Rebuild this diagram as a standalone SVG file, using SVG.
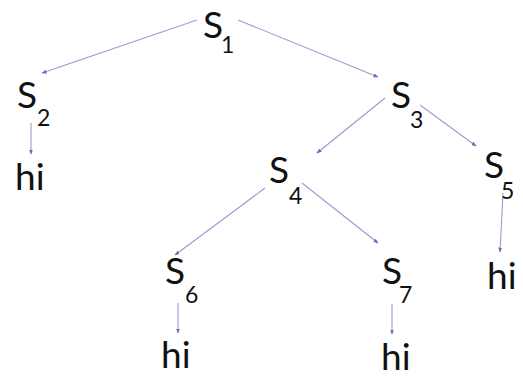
<svg xmlns="http://www.w3.org/2000/svg" width="523" height="378" viewBox="0 0 523 378">
  <defs>
    <marker id="tip" viewBox="0 0 10 10" refX="9" refY="5" markerWidth="5" markerHeight="5" orient="auto" markerUnits="userSpaceOnUse">
      <path d="M0,1 L10,5 L0,9 Z" fill="#6a6ab8"/>
    </marker>
    <style>
      .s { font-family: Lato, "Open Sans", "Liberation Sans", sans-serif; font-size: 37px; fill: #111; }
      .sub { font-family: Lato, "Open Sans", "Liberation Sans", sans-serif; font-size: 23px; fill: #111; }
      .hi { font-family: Lato, "Open Sans", "Liberation Sans", sans-serif; font-size: 37px; fill: #111; }
      .edge { stroke: #9a9ad0; stroke-width: 1.1; fill: none; marker-end: url(#tip); }
    </style>
  </defs>
  <rect width="523" height="378" fill="#ffffff"/>

  <g id="connectors">
    <line class="edge" x1="197" y1="20" x2="42" y2="73"/>
    <line class="edge" x1="238" y1="20" x2="378" y2="77"/>
    <line class="edge" x1="31" y1="123" x2="31" y2="154"/>
    <line class="edge" x1="385" y1="98" x2="317" y2="153"/>
    <line class="edge" x1="420" y1="105" x2="476" y2="146"/>
    <line class="edge" x1="503" y1="193" x2="500" y2="252"/>
    <line class="edge" x1="265" y1="188" x2="175" y2="255"/>
    <line class="edge" x1="302" y1="183" x2="378" y2="243"/>
    <line class="edge" x1="178" y1="303" x2="178" y2="333"/>
    <line class="edge" x1="392" y1="304" x2="392" y2="334"/>
  </g>

  <g id="s1"><text class="s" x="203" y="38">S</text><text class="sub" x="221" y="53">1</text></g>
  <g id="s2"><text class="s" x="17" y="108">S</text><text class="sub" x="37" y="126">2</text></g>
  <g id="hi2"><text class="hi" x="15" y="190">hi</text></g>
  <g id="s3"><text class="s" x="391" y="108">S</text><text class="sub" x="410" y="128">3</text></g>
  <g id="s4"><text class="s" x="269" y="183">S</text><text class="sub" x="289" y="204">4</text></g>
  <g id="s5"><text class="s" x="484" y="178">S</text><text class="sub" x="501" y="199">5</text></g>
  <g id="hi5"><text class="hi" x="487" y="289">hi</text></g>
  <g id="s6"><text class="s" x="165" y="284">S</text><text class="sub" x="185" y="303">6</text></g>
  <g id="hi6"><text class="hi" x="161" y="368">hi</text></g>
  <g id="s7"><text class="s" x="382" y="284">S</text><text class="sub" x="399" y="303">7</text></g>
  <g id="hi7"><text class="hi" x="381" y="370">hi</text></g>
</svg>
